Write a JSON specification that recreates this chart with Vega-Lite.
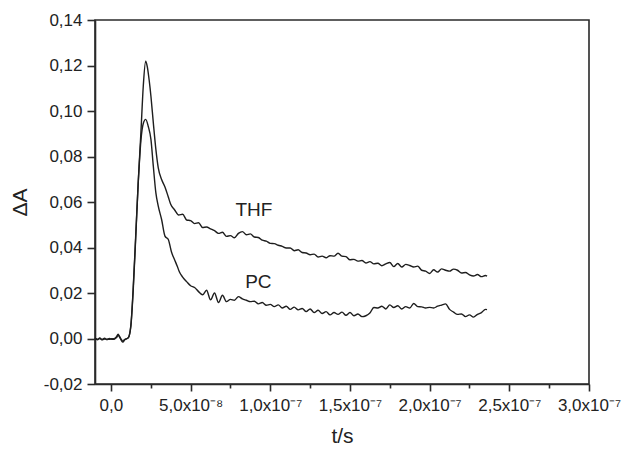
{
  "$schema": "https://vega.github.io/schema/vega-lite/v6.json",
  "width": 494,
  "height": 364,
  "autosize": {"type": "none"},
  "padding": {"left": 95, "top": 20, "right": 34, "bottom": 68},
  "background": "white",
  "config": {
    "font": "Liberation Sans",
    "view": {"stroke": "#2a2a2a", "strokeWidth": 1.6},
    "axis": {
      "grid": false,
      "ticks": true,
      "domainColor": "#2a2a2a",
      "domainWidth": 1.6,
      "tickColor": "#2a2a2a",
      "tickWidth": 1.6,
      "labelFont": "Liberation Sans",
      "labelFontSize": 17,
      "labelColor": "#222",
      "titleFont": "Liberation Sans",
      "titleFontSize": 21,
      "titleFontWeight": "normal",
      "titleColor": "#222",
      "labelOverlap": false,
      "labelFlush": false,
      "labelBound": false
    }
  },
  "datasets": {
    "traces": [
      {"series": "THF", "t": -10e-9, "dA": 0.0003},
      {"series": "THF", "t": -8.5e-9, "dA": -0.0006},
      {"series": "THF", "t": -7e-9, "dA": 0.0002},
      {"series": "THF", "t": -5.5e-9, "dA": -0.0004},
      {"series": "THF", "t": -4e-9, "dA": 0.0001},
      {"series": "THF", "t": -2.5e-9, "dA": -0.0005},
      {"series": "THF", "t": -1e-9, "dA": 0.0},
      {"series": "THF", "t": 0.5e-9, "dA": -0.0003},
      {"series": "THF", "t": 2e-9, "dA": -0.0001},
      {"series": "THF", "t": 3.5e-9, "dA": 0.0008},
      {"series": "THF", "t": 4.5e-9, "dA": 0.0019},
      {"series": "THF", "t": 5.5e-9, "dA": 0.0008},
      {"series": "THF", "t": 6.5e-9, "dA": -0.0004},
      {"series": "THF", "t": 7.5e-9, "dA": -0.0012},
      {"series": "THF", "t": 8.5e-9, "dA": -0.0005},
      {"series": "THF", "t": 9.5e-9, "dA": -0.0002},
      {"series": "THF", "t": 10.9e-9, "dA": 0.0003},
      {"series": "THF", "t": 12.5e-9, "dA": 0.0054},
      {"series": "THF", "t": 14.0e-9, "dA": 0.0215},
      {"series": "THF", "t": 15.5e-9, "dA": 0.0435},
      {"series": "THF", "t": 17.1e-9, "dA": 0.0684},
      {"series": "THF", "t": 18.8e-9, "dA": 0.0904},
      {"series": "THF", "t": 20.3e-9, "dA": 0.111},
      {"series": "THF", "t": 21.8e-9, "dA": 0.1219},
      {"series": "THF", "t": 22.8e-9, "dA": 0.1195},
      {"series": "THF", "t": 24.0e-9, "dA": 0.1135},
      {"series": "THF", "t": 25.1e-9, "dA": 0.1065},
      {"series": "THF", "t": 26.6e-9, "dA": 0.0948},
      {"series": "THF", "t": 28.2e-9, "dA": 0.0831},
      {"series": "THF", "t": 29.7e-9, "dA": 0.0750},
      {"series": "THF", "t": 31.8e-9, "dA": 0.0699},
      {"series": "THF", "t": 33.9e-9, "dA": 0.0666},
      {"series": "THF", "t": 36.0e-9, "dA": 0.0622},
      {"series": "THF", "t": 37.5e-9, "dA": 0.0590},
      {"series": "THF", "t": 40e-9, "dA": 0.0565},
      {"series": "THF", "t": 42.5e-9, "dA": 0.0543},
      {"series": "THF", "t": 45e-9, "dA": 0.0546},
      {"series": "THF", "t": 47.5e-9, "dA": 0.0521},
      {"series": "THF", "t": 50e-9, "dA": 0.0518},
      {"series": "THF", "t": 52.5e-9, "dA": 0.0505},
      {"series": "THF", "t": 55e-9, "dA": 0.0509},
      {"series": "THF", "t": 57.5e-9, "dA": 0.0488},
      {"series": "THF", "t": 60e-9, "dA": 0.0490},
      {"series": "THF", "t": 62.5e-9, "dA": 0.0482},
      {"series": "THF", "t": 65e-9, "dA": 0.0474},
      {"series": "THF", "t": 67.5e-9, "dA": 0.0462},
      {"series": "THF", "t": 70e-9, "dA": 0.0467},
      {"series": "THF", "t": 72.5e-9, "dA": 0.0449},
      {"series": "THF", "t": 75e-9, "dA": 0.0452},
      {"series": "THF", "t": 77.5e-9, "dA": 0.0443},
      {"series": "THF", "t": 80e-9, "dA": 0.0462},
      {"series": "THF", "t": 82.5e-9, "dA": 0.0470},
      {"series": "THF", "t": 85e-9, "dA": 0.0456},
      {"series": "THF", "t": 87.5e-9, "dA": 0.0460},
      {"series": "THF", "t": 90e-9, "dA": 0.0446},
      {"series": "THF", "t": 92.5e-9, "dA": 0.0444},
      {"series": "THF", "t": 95e-9, "dA": 0.0432},
      {"series": "THF", "t": 97.5e-9, "dA": 0.0428},
      {"series": "THF", "t": 100e-9, "dA": 0.0418},
      {"series": "THF", "t": 102.5e-9, "dA": 0.0417},
      {"series": "THF", "t": 105e-9, "dA": 0.0410},
      {"series": "THF", "t": 107.5e-9, "dA": 0.0405},
      {"series": "THF", "t": 110e-9, "dA": 0.0398},
      {"series": "THF", "t": 112.5e-9, "dA": 0.0398},
      {"series": "THF", "t": 115e-9, "dA": 0.0386},
      {"series": "THF", "t": 117.5e-9, "dA": 0.0390},
      {"series": "THF", "t": 120e-9, "dA": 0.0378},
      {"series": "THF", "t": 122.5e-9, "dA": 0.0376},
      {"series": "THF", "t": 125e-9, "dA": 0.0368},
      {"series": "THF", "t": 127.5e-9, "dA": 0.0371},
      {"series": "THF", "t": 130e-9, "dA": 0.0358},
      {"series": "THF", "t": 132.5e-9, "dA": 0.0362},
      {"series": "THF", "t": 135e-9, "dA": 0.0355},
      {"series": "THF", "t": 137.5e-9, "dA": 0.0364},
      {"series": "THF", "t": 140e-9, "dA": 0.0362},
      {"series": "THF", "t": 142.5e-9, "dA": 0.0375},
      {"series": "THF", "t": 145e-9, "dA": 0.0362},
      {"series": "THF", "t": 147.5e-9, "dA": 0.0360},
      {"series": "THF", "t": 150e-9, "dA": 0.0346},
      {"series": "THF", "t": 152.5e-9, "dA": 0.0348},
      {"series": "THF", "t": 155e-9, "dA": 0.0340},
      {"series": "THF", "t": 157.5e-9, "dA": 0.0343},
      {"series": "THF", "t": 160e-9, "dA": 0.0332},
      {"series": "THF", "t": 162.5e-9, "dA": 0.0338},
      {"series": "THF", "t": 165e-9, "dA": 0.0328},
      {"series": "THF", "t": 167.5e-9, "dA": 0.0331},
      {"series": "THF", "t": 170e-9, "dA": 0.0320},
      {"series": "THF", "t": 172.5e-9, "dA": 0.0328},
      {"series": "THF", "t": 175e-9, "dA": 0.0334},
      {"series": "THF", "t": 177.5e-9, "dA": 0.0316},
      {"series": "THF", "t": 180e-9, "dA": 0.0330},
      {"series": "THF", "t": 182.5e-9, "dA": 0.0314},
      {"series": "THF", "t": 185e-9, "dA": 0.0326},
      {"series": "THF", "t": 187.5e-9, "dA": 0.0321},
      {"series": "THF", "t": 190e-9, "dA": 0.0314},
      {"series": "THF", "t": 192.5e-9, "dA": 0.0318},
      {"series": "THF", "t": 195e-9, "dA": 0.0300},
      {"series": "THF", "t": 197.5e-9, "dA": 0.0296},
      {"series": "THF", "t": 200e-9, "dA": 0.0286},
      {"series": "THF", "t": 202.5e-9, "dA": 0.0302},
      {"series": "THF", "t": 205e-9, "dA": 0.0292},
      {"series": "THF", "t": 207.5e-9, "dA": 0.0306},
      {"series": "THF", "t": 210e-9, "dA": 0.0300},
      {"series": "THF", "t": 212.5e-9, "dA": 0.0296},
      {"series": "THF", "t": 215e-9, "dA": 0.0305},
      {"series": "THF", "t": 217.5e-9, "dA": 0.0300},
      {"series": "THF", "t": 220e-9, "dA": 0.0288},
      {"series": "THF", "t": 222.5e-9, "dA": 0.0290},
      {"series": "THF", "t": 225e-9, "dA": 0.0280},
      {"series": "THF", "t": 227.5e-9, "dA": 0.0275},
      {"series": "THF", "t": 230e-9, "dA": 0.0281},
      {"series": "THF", "t": 232.5e-9, "dA": 0.0272},
      {"series": "THF", "t": 235e-9, "dA": 0.0277},
      {"series": "THF", "t": 236e-9, "dA": 0.0274},
      {"series": "PC", "t": -10e-9, "dA": 0.0001},
      {"series": "PC", "t": -8.5e-9, "dA": -0.0003},
      {"series": "PC", "t": -7e-9, "dA": 0.0},
      {"series": "PC", "t": -5.5e-9, "dA": -0.0006},
      {"series": "PC", "t": -4e-9, "dA": -0.0002},
      {"series": "PC", "t": -2.5e-9, "dA": -0.0003},
      {"series": "PC", "t": -1e-9, "dA": -0.0004},
      {"series": "PC", "t": 0.5e-9, "dA": -0.0001},
      {"series": "PC", "t": 2e-9, "dA": -0.0003},
      {"series": "PC", "t": 3.5e-9, "dA": 0.0004},
      {"series": "PC", "t": 4.5e-9, "dA": 0.0014},
      {"series": "PC", "t": 5.5e-9, "dA": 0.0005},
      {"series": "PC", "t": 6.5e-9, "dA": -0.0008},
      {"series": "PC", "t": 7.5e-9, "dA": -0.0016},
      {"series": "PC", "t": 8.5e-9, "dA": -0.0007},
      {"series": "PC", "t": 9.5e-9, "dA": -0.0002},
      {"series": "PC", "t": 10.9e-9, "dA": 0.0004},
      {"series": "PC", "t": 12.5e-9, "dA": 0.0058},
      {"series": "PC", "t": 14.0e-9, "dA": 0.0225},
      {"series": "PC", "t": 15.5e-9, "dA": 0.0445},
      {"series": "PC", "t": 17.1e-9, "dA": 0.0680},
      {"series": "PC", "t": 18.8e-9, "dA": 0.0870},
      {"series": "PC", "t": 20.3e-9, "dA": 0.0945},
      {"series": "PC", "t": 21.8e-9, "dA": 0.0963},
      {"series": "PC", "t": 23.4e-9, "dA": 0.0933},
      {"series": "PC", "t": 25.1e-9, "dA": 0.0875},
      {"series": "PC", "t": 26.6e-9, "dA": 0.0757},
      {"series": "PC", "t": 28.2e-9, "dA": 0.0640},
      {"series": "PC", "t": 29.7e-9, "dA": 0.0582},
      {"series": "PC", "t": 31.8e-9, "dA": 0.0523},
      {"series": "PC", "t": 33.9e-9, "dA": 0.0450},
      {"series": "PC", "t": 36.0e-9, "dA": 0.0435},
      {"series": "PC", "t": 38e-9, "dA": 0.0380},
      {"series": "PC", "t": 40e-9, "dA": 0.0345},
      {"series": "PC", "t": 41.5e-9, "dA": 0.0320},
      {"series": "PC", "t": 43e-9, "dA": 0.0292},
      {"series": "PC", "t": 45e-9, "dA": 0.0270},
      {"series": "PC", "t": 47.5e-9, "dA": 0.0250},
      {"series": "PC", "t": 50e-9, "dA": 0.0232},
      {"series": "PC", "t": 52.5e-9, "dA": 0.0224},
      {"series": "PC", "t": 55e-9, "dA": 0.0206},
      {"series": "PC", "t": 57.5e-9, "dA": 0.0192},
      {"series": "PC", "t": 60e-9, "dA": 0.0212},
      {"series": "PC", "t": 62.5e-9, "dA": 0.0170},
      {"series": "PC", "t": 65e-9, "dA": 0.0200},
      {"series": "PC", "t": 67.5e-9, "dA": 0.0158},
      {"series": "PC", "t": 70e-9, "dA": 0.0190},
      {"series": "PC", "t": 72.5e-9, "dA": 0.0162},
      {"series": "PC", "t": 75e-9, "dA": 0.0172},
      {"series": "PC", "t": 77.5e-9, "dA": 0.0168},
      {"series": "PC", "t": 80e-9, "dA": 0.0184},
      {"series": "PC", "t": 82.5e-9, "dA": 0.0174},
      {"series": "PC", "t": 85e-9, "dA": 0.0168},
      {"series": "PC", "t": 87.5e-9, "dA": 0.0162},
      {"series": "PC", "t": 90e-9, "dA": 0.0164},
      {"series": "PC", "t": 92.5e-9, "dA": 0.0152},
      {"series": "PC", "t": 95e-9, "dA": 0.0158},
      {"series": "PC", "t": 97.5e-9, "dA": 0.0146},
      {"series": "PC", "t": 100e-9, "dA": 0.0150},
      {"series": "PC", "t": 102.5e-9, "dA": 0.0140},
      {"series": "PC", "t": 105e-9, "dA": 0.0148},
      {"series": "PC", "t": 107.5e-9, "dA": 0.0134},
      {"series": "PC", "t": 110e-9, "dA": 0.0142},
      {"series": "PC", "t": 112.5e-9, "dA": 0.0128},
      {"series": "PC", "t": 115e-9, "dA": 0.0138},
      {"series": "PC", "t": 117.5e-9, "dA": 0.0126},
      {"series": "PC", "t": 120e-9, "dA": 0.0132},
      {"series": "PC", "t": 122.5e-9, "dA": 0.0118},
      {"series": "PC", "t": 125e-9, "dA": 0.0130},
      {"series": "PC", "t": 127.5e-9, "dA": 0.0114},
      {"series": "PC", "t": 130e-9, "dA": 0.0124},
      {"series": "PC", "t": 132.5e-9, "dA": 0.0110},
      {"series": "PC", "t": 135e-9, "dA": 0.0118},
      {"series": "PC", "t": 137.5e-9, "dA": 0.0104},
      {"series": "PC", "t": 140e-9, "dA": 0.0114},
      {"series": "PC", "t": 142.5e-9, "dA": 0.0106},
      {"series": "PC", "t": 145e-9, "dA": 0.0116},
      {"series": "PC", "t": 147.5e-9, "dA": 0.0102},
      {"series": "PC", "t": 150e-9, "dA": 0.0114},
      {"series": "PC", "t": 152.5e-9, "dA": 0.0100},
      {"series": "PC", "t": 155e-9, "dA": 0.0108},
      {"series": "PC", "t": 157.5e-9, "dA": 0.0096},
      {"series": "PC", "t": 160e-9, "dA": 0.0100},
      {"series": "PC", "t": 162.5e-9, "dA": 0.0112},
      {"series": "PC", "t": 165e-9, "dA": 0.0136},
      {"series": "PC", "t": 167.5e-9, "dA": 0.0134},
      {"series": "PC", "t": 170e-9, "dA": 0.0142},
      {"series": "PC", "t": 172.5e-9, "dA": 0.0130},
      {"series": "PC", "t": 175e-9, "dA": 0.0148},
      {"series": "PC", "t": 177.5e-9, "dA": 0.0136},
      {"series": "PC", "t": 180e-9, "dA": 0.0144},
      {"series": "PC", "t": 182.5e-9, "dA": 0.0130},
      {"series": "PC", "t": 185e-9, "dA": 0.0140},
      {"series": "PC", "t": 187.5e-9, "dA": 0.0134},
      {"series": "PC", "t": 190e-9, "dA": 0.0154},
      {"series": "PC", "t": 192.5e-9, "dA": 0.0140},
      {"series": "PC", "t": 195e-9, "dA": 0.0139},
      {"series": "PC", "t": 197.5e-9, "dA": 0.0134},
      {"series": "PC", "t": 200e-9, "dA": 0.0137},
      {"series": "PC", "t": 202.5e-9, "dA": 0.0134},
      {"series": "PC", "t": 205e-9, "dA": 0.0142},
      {"series": "PC", "t": 207.5e-9, "dA": 0.0147},
      {"series": "PC", "t": 210e-9, "dA": 0.0152},
      {"series": "PC", "t": 212.5e-9, "dA": 0.0128},
      {"series": "PC", "t": 215e-9, "dA": 0.0116},
      {"series": "PC", "t": 217.5e-9, "dA": 0.0106},
      {"series": "PC", "t": 220e-9, "dA": 0.0108},
      {"series": "PC", "t": 222.5e-9, "dA": 0.0096},
      {"series": "PC", "t": 225e-9, "dA": 0.0104},
      {"series": "PC", "t": 227.5e-9, "dA": 0.0094},
      {"series": "PC", "t": 230e-9, "dA": 0.0106},
      {"series": "PC", "t": 232.5e-9, "dA": 0.0114},
      {"series": "PC", "t": 235e-9, "dA": 0.0128},
      {"series": "PC", "t": 236e-9, "dA": 0.0127}
    ],
    "labels": [
      {"label": "THF", "t": 89.7e-9, "dA": 0.0567},
      {"label": "PC", "t": 92.5e-9, "dA": 0.0248}
    ]
  },
  "layer": [
    {
      "data": {"name": "traces"},
      "mark": {"type": "line", "color": "#1e1e1e", "strokeWidth": 1.4, "interpolate": "monotone"},
      "encoding": {
        "x": {
          "field": "t", "type": "quantitative",
          "scale": {"domain": [-1e-8, 3e-7], "nice": false, "zero": false},
          "axis": {
            "orient": "bottom",
            "title": "t/s",
            "values": [0, 2.5e-8, 5e-8, 7.5e-8, 1e-7, 1.25e-7, 1.5e-7, 1.75e-7, 2e-7, 2.25e-7, 2.5e-7, 2.75e-7, 3e-7],
            "labelExpr": "abs(datum.value / 5e-8 - round(datum.value / 5e-8)) > 0.1 ? '' : (datum.value < 1e-9 ? '0,0' : (datum.value < 7e-8 ? '5,0x10⁻⁸' : replace(format(datum.value * 1e7, '.1f'), '.', ',') + 'x10⁻⁷'))",
            "tickSize": {"condition": {"test": "abs(datum.value / 5e-8 - round(datum.value / 5e-8)) < 0.1", "value": 7}, "value": 4},
            "labelPadding": 6,
            "titlePadding": 12
          }
        },
        "y": {
          "field": "dA", "type": "quantitative",
          "scale": {"domain": [-0.02, 0.14], "nice": false, "zero": false},
          "axis": {
            "orient": "left",
            "title": "ΔA",
            "values": [-0.02, -0.01, 0, 0.01, 0.02, 0.03, 0.04, 0.05, 0.06, 0.07, 0.08, 0.09, 0.1, 0.11, 0.12, 0.13, 0.14],
            "labelExpr": "abs(datum.value / 0.02 - round(datum.value / 0.02)) > 0.1 ? '' : replace(replace(format(datum.value, '.2f'), '.', ','), '−', '-')",
            "tickSize": {"condition": {"test": "abs(datum.value / 0.02 - round(datum.value / 0.02)) < 0.1", "value": 8}, "value": 4},
            "labelPadding": 5,
            "titlePadding": 13
          }
        },
        "detail": {"field": "series"}
      }
    },
    {
      "data": {"name": "labels"},
      "mark": {"type": "text", "fontSize": 19, "color": "#222", "font": "Liberation Sans"},
      "encoding": {
        "x": {"field": "t", "type": "quantitative"},
        "y": {"field": "dA", "type": "quantitative"},
        "text": {"field": "label"}
      }
    }
  ]
}
